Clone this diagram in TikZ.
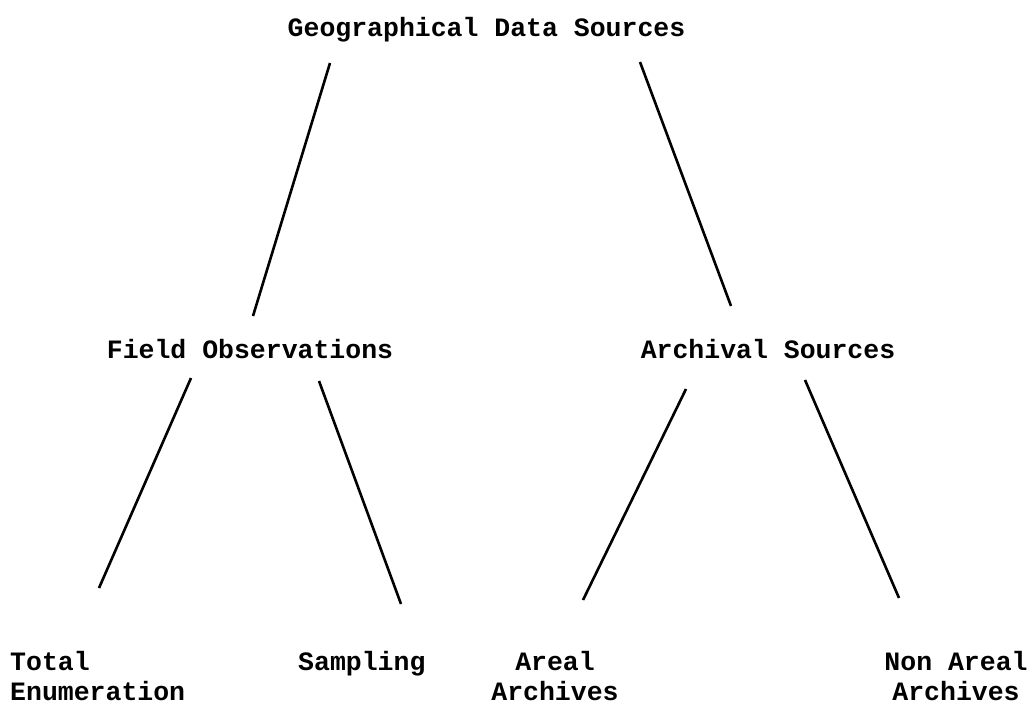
\documentclass[tikz,border=0pt]{standalone}
\usepackage{fontspec}
\setmonofont{Liberation Mono}

\begin{document}
\begin{tikzpicture}[x=1pt, y=-1pt,
  every node/.style={font=\ttfamily\bfseries\fontsize{26.5}{30}\selectfont, inner sep=0pt},
  branch/.style={line width=2.6pt}]

\useasboundingbox (0,0) rectangle (1032,709);

%labels
\node[anchor=base] (geo) at (486.5,37) {Geographical Data Sources};
\node[anchor=base] (field) at (250,358) {Field Observations};
\node[anchor=base] (archival) at (768,358) {Archival Sources};

\node[anchor=north west, align=left] (total) at (10,651) {Total\\Enumeration};
\node[anchor=north west] (sampling) at (298,651) {Sampling};
\node[anchor=north, align=center] (areal) at (555,651) {Areal\\Archives};
\node[anchor=north, align=center] (nonareal) at (956,651) {Non Areal\\Archives};

%line ends
\coordinate (geoL) at (330,63);
\coordinate (geoR) at (640,62);
\coordinate (fieldUp) at (253,316);
\coordinate (archUp) at (731,306);
\coordinate (fieldL) at (191,378);
\coordinate (fieldR) at (319,381);
\coordinate (archL) at (686,389);
\coordinate (archR) at (805,380);
\coordinate (totalUp) at (99,588);
\coordinate (sampUp) at (401,604);
\coordinate (arealUp) at (583,600);
\coordinate (nonUp) at (899,598);

%branches
\draw[branch] (geoL) -- (fieldUp);
\draw[branch] (geoR) -- (archUp);
\draw[branch] (fieldL) -- (totalUp);
\draw[branch] (fieldR) -- (sampUp);
\draw[branch] (archL) -- (arealUp);
\draw[branch] (archR) -- (nonUp);

\end{tikzpicture}
\end{document}
